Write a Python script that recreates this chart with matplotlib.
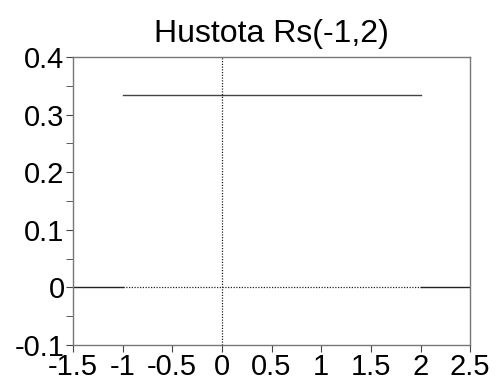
import matplotlib
matplotlib.use("Agg")
import matplotlib.pyplot as plt
import numpy as np

# hustota rovnomerneho rozdeleni Rs(-1,2)
a, b = -1, 2
density = 1 / (b - a)
x_left = [-1.5, -1]
x_mid = [-1, 2]
x_right = [2, 2.5]
x_ticks = [-1.5, -1, -0.5, 0, 0.5, 1, 1.5, 2, 2.5]
x_labels = ["-1.5", "-1", "-0.5", "0", "0.5", "1", "1.5", "2", "2.5"]
y_ticks = [-0.1, 0, 0.1, 0.2, 0.3, 0.4]
y_labels = ["-0.1", "0", "0.1", "0.2", "0.3", "0.4"]

plt.rcParams['font.family'] = ['Liberation Sans', 'DejaVu Sans']

fig = plt.figure(figsize=(4.96, 3.8), dpi=100)
ax = fig.add_axes([0.147, 0.092, 0.801, 0.758])

line_col = "#444444"
ax.plot(x_left, [0, 0], color="#222222", lw=1)
ax.plot(x_right, [0, 0], color="#222222", lw=1)
ax.plot(x_mid, [0, 0], color="#222222", lw=0.9, ls=(0, (1, 1.2)))
ax.plot(x_mid, [density, density], color=line_col, lw=1)
ax.plot([0, 0], [-0.1, 0.4], color="#222222", lw=0.9, ls=(0, (1, 1.2)))

ax.set_xlim(-1.5, 2.5)
ax.set_ylim(-0.1, 0.4)
ax.set_xticks(x_ticks)
ax.set_xticklabels(x_labels)
ax.set_yticks(y_ticks)
ax.set_yticklabels(y_labels)
ax.set_yticks(np.arange(-0.05, 0.4, 0.1), minor=True)

for s in ax.spines.values():
    s.set_color("#777777")
    s.set_linewidth(1)
ax.tick_params(axis="both", which="both", direction="out", color="#444444",
               labelsize=21, pad=1)
ax.tick_params(axis="x", pad=0.5)
ax.tick_params(which="major", length=5)
ax.tick_params(which="minor", length=5)

ax.set_title("Hustota Rs(-1,2)", fontsize=23, pad=11)

fig.savefig("out.png", dpi=100)
